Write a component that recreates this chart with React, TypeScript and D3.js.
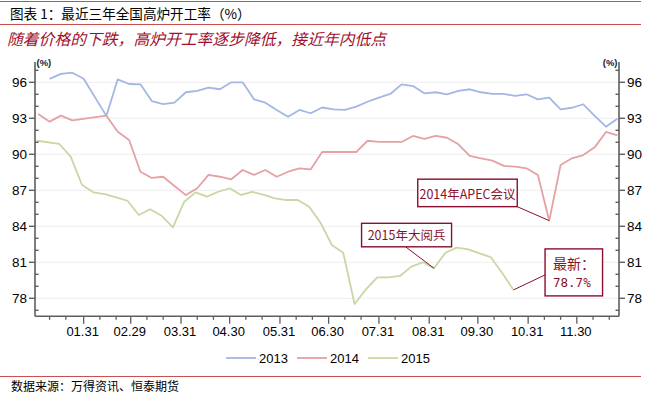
import React from 'react';
import * as d3 from 'd3';

// ---------- data ----------
const seriesNames = ['2013', '2014', '2015'];
const seriesColors = ['#A3B6E4', '#E5A1A3', '#C7D8A2'];

const dates2013 = ['01-10','01-17','01-24','01-31','02-14','02-21','02-28','03-06','03-13','03-20','03-27','04-03','04-10','04-17','04-24','05-01','05-08','05-15','05-22','05-29','06-05','06-12','06-19','06-26','07-03','07-10','07-17','07-24','07-31','08-07','08-14','08-21','08-28','09-04','09-11','09-18','09-25','10-02','10-09','10-16','10-23','10-30','11-06','11-13','11-20','11-27','12-04','12-11','12-18','12-25'];
const values2013 = [96.28,96.7,96.8,96.3,93.2,96.25,95.86,95.83,94.44,94.19,94.3,95.17,95.28,95.55,95.42,96.0,96.0,94.58,94.3,93.7,93.13,93.7,93.42,93.9,93.75,93.7,93.97,94.38,94.72,95.03,95.83,95.69,95.08,95.17,95.0,95.28,95.42,95.17,95.03,95.03,94.86,95.0,94.58,94.72,93.75,93.88,94.17,93.2,92.3,92.97];

const dates2014 = ['01-03','01-10','01-17','01-24','02-14','02-21','02-28','03-06','03-13','03-20','03-27','04-03','04-10','04-17','04-24','05-01','05-08','05-15','05-22','05-29','06-05','06-12','06-19','06-26','07-03','07-10','07-17','07-24','07-31','08-07','08-14','08-21','08-28','09-04','09-11','09-18','09-25','10-02','10-09','10-16','10-23','10-30','11-06','11-13','11-20','11-27','12-04','12-11','12-18','12-25'];
const values2014 = [93.36,92.72,93.22,92.83,93.22,91.88,91.19,88.55,88.03,88.13,87.36,86.6,87.17,88.28,88.13,87.92,88.69,88.28,88.69,88.13,88.55,88.83,88.75,90.19,90.19,90.19,90.19,91.13,91.03,91.03,91.03,91.53,91.28,91.53,91.38,90.83,89.86,89.67,89.47,89.03,88.97,88.83,88.28,84.47,89.11,89.67,89.94,90.58,91.86,91.58];

const dates2015 = ['01-02','01-16','01-23','01-30','02-06','02-13','02-20','02-27','03-05','03-12','03-19','03-26','04-02','04-09','04-16','04-23','04-30','05-07','05-14','05-21','05-28','06-04','06-11','06-18','06-25','07-02','07-09','07-16','07-23','07-30','08-06','08-13','08-20','08-27','09-03','09-10','09-17','09-24','10-01','10-08','10-15','10-22'];
const values2015 = [91.13,90.86,89.8,87.44,86.83,86.69,86.42,86.13,84.94,85.42,84.88,83.92,86.05,86.83,86.47,86.88,87.17,86.61,86.86,86.61,86.33,86.19,86.19,85.63,84.3,82.44,81.8,77.52,78.75,79.75,79.75,79.86,80.64,81.0,80.5,81.8,82.22,82.08,81.75,81.42,80.1,78.7];

const yTickValues = [78, 81, 84, 87, 90, 93, 96];
const xTickLabels = ['01.31','02.29','03.31','04.30','05.31','06.30','07.31','08.31','09.30','10.31','11.30'];

const titleText = '图表 1：最近三年全国高炉开工率（%）';
const subtitleText = '随着价格的下跌，高炉开工率逐步降低，接近年内低点';
const sourceText = '数据来源：万得资讯、恒泰期货';

const annoApecText = '2014年APEC会议';
const annoApecDate = '11-13';
const annoParadeText = '2015年大阅兵';
const annoParadeDate = '09-03';
const annoLatestLines = ['最新：', '78.7%'];
const annoLatestDate = '10-22';

// ---------- helpers ----------
const parse = (md: string) => new Date(2016, +md.slice(0, 2) - 1, +md.slice(3, 5));

const W = 648, H = 397;
const L = 35, R = 619, T = 63.1, B = 316.3;

const x = d3.scaleTime().domain([new Date(2016, 0, 1), new Date(2016, 11, 26)]).range([L, R]);
const y = d3.scaleLinear().domain([76.5, 97.6]).range([B, T]);

const series = [
  { name: seriesNames[0], color: seriesColors[0], dates: dates2013, values: values2013 },
  { name: seriesNames[1], color: seriesColors[1], dates: dates2014, values: values2014 },
  { name: seriesNames[2], color: seriesColors[2], dates: dates2015, values: values2015 },
];

const lineGen = d3.line<[Date, number]>().x(d => x(d[0])).y(d => y(d[1]));

const axisColor = '#5e5e5e';
const annoColor = '#8A0F2E';
const redLine = '#C9504F';
const numFont = '"Liberation Sans", Arial, sans-serif';
const cjkFont = '"Noto Sans CJK SC", sans-serif';

function valueAt(dates: string[], values: number[], md: string) {
  const i = dates.indexOf(md);
  return values[i];
}

export default function App() {
  const minorY: number[] = [];
  for (let v = 77; v <= 97; v++) if (!yTickValues.includes(v)) minorY.push(v);

  const xMinor: Date[] = [];
  for (let m = 0; m < 12; m++) {
    [10, 20].forEach(d => {
      const dt = new Date(2016, m, d);
      if (dt <= x.domain()[1]) xMinor.push(dt);
    });
  }
  const xMajor = xTickLabels.map(s => new Date(2016, +s.slice(0, 2) - 1, +s.slice(3, 5)));

  const apecPt = [x(parse(annoApecDate)), y(valueAt(dates2014, values2014, annoApecDate))];
  const paradePt = [x(parse(annoParadeDate)), y(valueAt(dates2015, values2015, annoParadeDate))];
  const latestPt = [x(parse(annoLatestDate)), y(valueAt(dates2015, values2015, annoLatestDate))];

  const apecBox = { x: apecPt[0] - 131.5, y: apecPt[1] - 41.5, w: 99.5, h: 27.5 };
  const paradeBox = { x: paradePt[0] - 72.5, y: paradePt[1] - 45, w: 90, h: 23.5 };
  const latestBox = { x: latestPt[0] + 31.5, y: latestPt[1] - 41, w: 57.5, h: 47 };

  const legendX = [226, 297, 368];

  return (
    <svg width={W} height={H} style={{ position: 'absolute', left: 0, top: 0, background: '#fff' }}>
      <rect x={0} y={0} width={W} height={H} fill="#fff" />
      <line x1={0} x2={641} y1={1.5} y2={1.5} stroke={redLine} strokeWidth={1.2} />
      <text x={10} y={19} fontFamily={cjkFont} fontSize={13.6} fill="#000">{titleText}</text>
      <line x1={0} x2={641} y1={24.5} y2={24.5} stroke={redLine} strokeWidth={1.2} />
      <text x={7} y={45} fontFamily={cjkFont} fontSize={15.8} fontStyle="italic" fill="#A0102E">{subtitleText}</text>

      {yTickValues.map(v => (
        <line key={'g' + v} x1={L} x2={R} y1={y(v)} y2={y(v)} stroke="#EEEEEE" strokeWidth={1} />
      ))}

      {series.map(s => (
        <path key={s.name}
          d={lineGen(s.dates.map((d, i) => [parse(d), s.values[i]] as [Date, number])) || ''}
          fill="none" stroke={s.color} strokeWidth={1.8} strokeLinejoin="round" />
      ))}

      <line x1={L} x2={L} y1={T - 1} y2={B} stroke={axisColor} strokeWidth={1.6} />
      {yTickValues.map(v => (
        <g key={'ly' + v}>
          <line x1={L - 6} x2={L} y1={y(v)} y2={y(v)} stroke={axisColor} strokeWidth={1.4} />
          <text x={L - 8} y={y(v)} dy="0.36em" textAnchor="end" fontFamily={numFont} fontSize={13.5} fill="#000">{v}</text>
        </g>
      ))}
      {minorY.map(v => (
        <line key={'lm' + v} x1={L} x2={L + 3.5} y1={y(v)} y2={y(v)} stroke={axisColor} strokeWidth={1.4} />
      ))}
      <text x={L + 1.5} y={65.5} fontFamily={numFont} fontSize={9.5} fontWeight="bold" fill="#222">(%)</text>

      <line x1={R} x2={R} y1={T - 1} y2={B} stroke={axisColor} strokeWidth={1.6} />
      {yTickValues.map(v => (
        <g key={'ry' + v}>
          <line x1={R} x2={R + 6} y1={y(v)} y2={y(v)} stroke={axisColor} strokeWidth={1.4} />
          <text x={R + 8} y={y(v)} dy="0.36em" textAnchor="start" fontFamily={numFont} fontSize={13.5} fill="#000">{v}</text>
        </g>
      ))}
      {minorY.map(v => (
        <line key={'rm' + v} x1={R - 3.5} x2={R} y1={y(v)} y2={y(v)} stroke={axisColor} strokeWidth={1.4} />
      ))}
      <text x={R - 1.5} y={65.5} textAnchor="end" fontFamily={numFont} fontSize={9.5} fontWeight="bold" fill="#222">(%)</text>

      <line x1={L} x2={R} y1={B} y2={B} stroke={axisColor} strokeWidth={1.6} />
      {xMinor.map((d, i) => (
        <line key={'xm' + i} x1={x(d)} x2={x(d)} y1={B} y2={B + 3.5} stroke={axisColor} strokeWidth={1.3} />
      ))}
      {xMajor.map((d, i) => (
        <g key={'xM' + i}>
          <line x1={x(d)} x2={x(d)} y1={B} y2={B + 7.5} stroke={axisColor} strokeWidth={1.3} />
          <text x={x(d) - 1} y={336} textAnchor="middle" fontFamily={numFont} fontSize={13} fill="#000">{xTickLabels[i]}</text>
        </g>
      ))}

      <line x1={apecBox.x + apecBox.w} y1={apecBox.y + apecBox.h} x2={apecPt[0]} y2={apecPt[1]} stroke={annoColor} strokeWidth={1} />
      <rect x={apecBox.x} y={apecBox.y} width={apecBox.w} height={apecBox.h} fill="#fff" stroke={annoColor} strokeWidth={1.4} />
      <text x={apecBox.x + apecBox.w / 2} y={apecBox.y + 19.5} textAnchor="middle" fontFamily={cjkFont} fontSize={12.5} fill={annoColor}>{annoApecText}</text>

      <line x1={paradeBox.x + 44} y1={paradeBox.y + paradeBox.h} x2={paradePt[0]} y2={paradePt[1]} stroke={annoColor} strokeWidth={1} />
      <rect x={paradeBox.x} y={paradeBox.y} width={paradeBox.w} height={paradeBox.h} fill="#fff" stroke={annoColor} strokeWidth={1.4} />
      <text x={paradeBox.x + paradeBox.w / 2} y={paradeBox.y + 17} textAnchor="middle" fontFamily={cjkFont} fontSize={12.5} fill={annoColor}>{annoParadeText}</text>

      <line x1={latestBox.x} y1={latestBox.y + 26} x2={latestPt[0]} y2={latestPt[1]} stroke={annoColor} strokeWidth={1} />
      <rect x={latestBox.x} y={latestBox.y} width={latestBox.w} height={latestBox.h} fill="#fff" stroke={annoColor} strokeWidth={1.4} />
      <text x={latestBox.x + 8} y={latestBox.y + 20} fontFamily={cjkFont} fontSize={14} fill={annoColor}>{annoLatestLines[0]}</text>
      <text x={latestBox.x + 8} y={latestBox.y + 38} fontFamily={'"DejaVu Sans Mono", monospace'} fontSize={12.5} fill={annoColor}>{annoLatestLines[1]}</text>

      {series.map((s, i) => (
        <g key={'lg' + s.name}>
          <line x1={legendX[i]} x2={legendX[i] + 30} y1={358} y2={358} stroke={s.color} strokeWidth={1.8} />
          <text x={legendX[i] + 33} y={358} dy="0.36em" fontFamily={numFont} fontSize={13} fill="#000">{s.name}</text>
        </g>
      ))}

      <line x1={0} x2={641} y1={376.5} y2={376.5} stroke={redLine} strokeWidth={1.2} />
      <text x={11} y={391} fontFamily={cjkFont} fontSize={12} fill="#000">{sourceText}</text>
    </svg>
  );
}
